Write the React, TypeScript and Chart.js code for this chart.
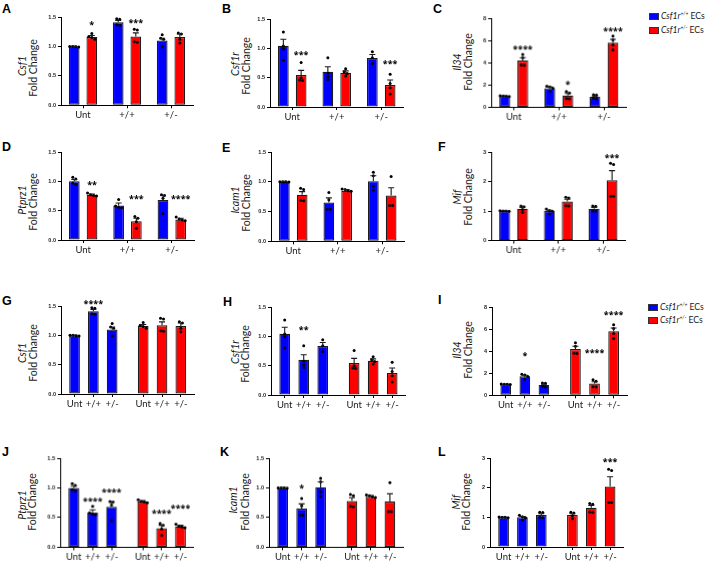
import React, { useEffect, useRef } from 'react';
import { Chart, registerables } from 'chart.js';
Chart.register(...registerables);

// ---------- data ----------
const GROUPS = ['Unt', '+/+', '+/-'];
const LETTERS = ['A', 'B', 'C', 'D', 'E', 'F', 'G', 'H', 'I', 'J', 'K', 'L'];
const GENES = ['Csf1', 'Csf1r', 'Il34', 'Ptprz1', 'Icam1', 'Mif'];
const Y_MAX = [1.5, 1.5, 8, 1.5, 1.5, 3];
const Y_STEP = [0.5, 0.5, 2, 0.5, 0.5, 1];
const Y_DEC = [1, 1, 0, 1, 1, 0];

const csf1BlueMean = [1.0, 1.41, 1.1];
const csf1RedMean = [1.16, 1.17, 1.16];
const csf1BlueSem = [0.006, 0.03, 0.04];
const csf1RedSem = [0.025, 0.06, 0.05];
const csf1BlueDots = [[1.0, 1.0, 0.995, 0.99], [1.47, 1.46, 1.37, 1.36], [1.2, 1.14, 1.12, 0.99]];
const csf1RedDots = [[1.22, 1.17, 1.15, 1.12], [1.29, 1.28, 1.08, 1.07], [1.23, 1.21, 1.12, 1.06]];

const csf1rBlueMean = [1.045, 0.6, 0.835];
const csf1rRedMean = [0.545, 0.585, 0.375];
const csf1rBlueSem = [0.11, 0.085, 0.06];
const csf1rRedSem = [0.08, 0.03, 0.085];
const csf1rBlueDots = [[1.28, 1.04, 0.99, 0.8], [0.84, 0.58, 0.52, 0.47], [0.94, 0.84, 0.74]];
const csf1rRedDots = [[0.76, 0.5, 0.46, 0.45], [0.65, 0.6, 0.57, 0.53], [0.56, 0.4, 0.33, 0.22]];

const il34BlueMean = [1.0, 1.72, 0.94];
const il34RedMean = [4.2, 1.06, 5.8];
const il34BlueSem = [0.03, 0.09, 0.07];
const il34RedSem = [0.25, 0.17, 0.3];
const il34BlueDots = [[1.03, 1.0, 0.99, 0.97], [1.9, 1.83, 1.7, 1.45], [1.12, 1.1, 0.82, 0.76]];
const il34RedDots = [[4.75, 4.45, 3.8, 3.78], [1.42, 1.27, 0.78, 0.76], [6.4, 6.05, 5.6, 5.15]];

const ptprz1BlueMean = [1.0, 0.59, 0.68];
const ptprz1RedMean = [0.77, 0.32, 0.35];
const ptprz1BlueSem = [0.03, 0.04, 0.08];
const ptprz1RedSem = [0.015, 0.05, 0.02];
const ptprz1BlueDots = [[1.07, 1.04, 0.97, 0.95], [0.69, 0.58, 0.56, 0.55], [0.77, 0.76, 0.71, 0.45]];
const ptprz1RedDots = [[0.8, 0.77, 0.76, 0.75], [0.4, 0.37, 0.31, 0.2], [0.39, 0.36, 0.34, 0.33]];

const icam1BlueMean = [1.0, 0.65, 1.01];
const icam1RedMean = [0.78, 0.85, 0.77];
const icam1BlueSem = [0.006, 0.08, 0.09];
const icam1RedSem = [0.055, 0.02, 0.13];
const icam1BlueDots = [[1.0, 1.0, 1.0, 0.995], [0.82, 0.7, 0.54, 0.54], [1.16, 1.1, 0.93, 0.86]];
const icam1RedDots = [[0.89, 0.87, 0.69, 0.68], [0.88, 0.87, 0.85, 0.84], [1.09, 0.6, 0.6]];

const mifBlueMean = [1.0, 1.0, 1.08];
const mifRedMean = [1.08, 1.32, 2.04];
const mifBlueSem = [0.01, 0.03, 0.04];
const mifRedSem = [0.04, 0.08, 0.33];
const mifBlueDots = [[1.01, 1.0, 1.0, 0.99], [1.07, 1.02, 0.99, 0.91], [1.17, 1.16, 1.0, 0.99]];
const mifRedDots = [[1.17, 1.15, 1.05, 0.95], [1.47, 1.44, 1.18, 1.17], [2.62, 2.58, 1.5, 1.5]];

// significance marks: [series (0 blue, 1 red), group, text, height]
const starsA = [[1, 0, '*', 1.4], [1, 1, '***', 1.43]];
const starsB = [[1, 0, '***', 0.93], [1, 2, '***', 0.77]];
const starsC = [[1, 0, '****', 5.35], [1, 1, '*', 2.2], [1, 2, '****', 7.0]];
const starsD = [[1, 0, '**', 0.98], [1, 1, '***', 0.74], [1, 2, '****', 0.74]];
const starsE: any[] = [];
const starsF = [[1, 2, '***', 2.86]];
const starsG = [[0, 1, '****', 1.58]];
const starsH = [[0, 1, '**', 1.15]];
const starsI = [[0, 1, '*', 3.78], [1, 1, '****', 4.0], [1, 2, '****', 7.5]];
const starsJ = [[0, 1, '****', 0.8], [0, 2, '****', 0.96], [1, 1, '****', 0.61], [1, 2, '****', 0.69]];
const starsK = [[0, 1, '*', 1.02]];
const starsL = [[1, 2, '***', 2.95]];

const GENE_DATA = [
  [csf1BlueMean, csf1RedMean, csf1BlueSem, csf1RedSem, csf1BlueDots, csf1RedDots],
  [csf1rBlueMean, csf1rRedMean, csf1rBlueSem, csf1rRedSem, csf1rBlueDots, csf1rRedDots],
  [il34BlueMean, il34RedMean, il34BlueSem, il34RedSem, il34BlueDots, il34RedDots],
  [ptprz1BlueMean, ptprz1RedMean, ptprz1BlueSem, ptprz1RedSem, ptprz1BlueDots, ptprz1RedDots],
  [icam1BlueMean, icam1RedMean, icam1BlueSem, icam1RedSem, icam1BlueDots, icam1RedDots],
  [mifBlueMean, mifRedMean, mifBlueSem, mifRedSem, mifBlueDots, mifRedDots],
] as any[];
const STARS = [starsA, starsB, starsC, starsD, starsE, starsF, starsG, starsH, starsI, starsJ, starsK, starsL] as any[];

// ---------- layout / style ----------
const BLUE = '#0000ff';
const RED = '#ff0000';
const EDGE = '#1c1c1c';
const INK = '#1a1a1a';
const FONT = 'Lato, "Open Sans", sans-serif';

// plot area boxes [left, top, right, bottom]
const PLOT_BOXES = [
  [61, 17, 193, 105.3], [269.5, 19, 403, 107], [491, 18.3, 625.5, 106.7],
  [61, 152.3, 194, 240.3], [270.5, 151.7, 404, 241], [491, 151.7, 624.5, 240.3],
  [61, 305.7, 194, 393.7], [270.5, 307, 405, 395], [491.5, 306.7, 626.5, 395],
  [60, 458.3, 192.7, 546.7], [268.5, 458.3, 402.7, 546.7], [490, 457.7, 623.3, 546.7],
];
const PAD_L = 30, PAD_T = 20, PAD_R = 8, PAD_B = 22;
const GROUPED_X = { blue: [-0.2, 0.8, 1.8], red: [0.2, 1.2, 2.2], min: -0.5, max: 2.5, step: 0.4 };
const SPLIT_X = { blue: [0, 1, 2], red: [3.65, 4.65, 5.65], min: -0.72, max: 6.35, step: 1 };
const BAR_PX = 10.7;
const DOT_GAP_PX = 3;

const LETTER_POS = [
  [2, 4], [222, 4], [433, 4], [2, 142], [222, 143], [438, 142],
  [2, 296], [223, 297], [438, 295], [2, 447], [220, 447], [438, 447],
];
// y-axis title centres: [geneX, geneY, foldX, foldY]
const YTITLE_POS = [
  [21.7, 66, 33, 68], [235, 64, 245.5, 66], [457, 62, 467.5, 62],
  [22, 200, 33, 202], [235, 200, 246, 203], [457, 197, 467.5, 197],
  [22, 353, 33, 353], [234.5, 352, 245, 354], [457, 350, 467.5, 350],
  [21.5, 505, 31.5, 502], [233, 500, 245, 502], [456, 502, 466, 502],
];

function spread(vals: number[], tol: number): [number, number][] {
  const s = [...vals].sort((a, b) => b - a);
  const out: [number, number][] = [];
  let i = 0;
  while (i < s.length) {
    let j = i;
    while (j + 1 < s.length && s[j] - s[j + 1] < tol) j++;
    const n = j - i + 1;
    for (let k = 0; k < n; k++) out.push([s[i + k], k - (n - 1) / 2]);
    i = j + 1;
  }
  return out;
}

function buildConfig(idx: number): any {
  const g = idx % 6;
  const split = idx >= 6;
  const [blueMean, redMean, blueSem, redSem, blueDots, redDots] = GENE_DATA[g];
  const X = split ? SPLIT_X : GROUPED_X;
  const [L, , R] = PLOT_BOXES[idx];
  const pxPerUnit = (R - L) / (X.max - X.min);
  const unitPerPx = 1 / pxPerUnit;
  const yMax = Y_MAX[g];
  const dots: { x: number; y: number }[] = [];
  const addDots = (sets: number[][], xs: number[]) =>
    sets.forEach((arr, i) =>
      spread(arr, yMax * 0.025).forEach(([v, k]) => dots.push({ x: xs[i] + k * DOT_GAP_PX * unitPerPx, y: v }))
    );
  addDots(blueDots, X.blue);
  addDots(redDots, X.red);

  const tickPos = split ? [...X.blue, ...X.red] : [0, 1, 2];
  const tickLab = split ? [...GROUPS, ...GROUPS] : GROUPS;
  const barPct = BAR_PX / (X.step * pxPerUnit);

  const barDs = (means: number[], xs: number[], color: string) => ({
    type: 'bar',
    data: means.map((v, i) => ({ x: xs[i], y: v })),
    backgroundColor: color,
    borderColor: EDGE,
    borderWidth: 1.2,
    borderSkipped: false,
    grouped: false,
    categoryPercentage: 1,
    barPercentage: barPct,
    order: 3,
  });

  const errs = [
    { xs: X.blue, means: blueMean, sems: blueSem },
    { xs: X.red, means: redMean, sems: redSem },
  ];
  const stars = STARS[idx];

  const overlay = {
    id: 'overlay' + idx,
    afterDatasetsDraw(chart: any) {
      const ctx = chart.ctx;
      const xs = chart.scales.x, ys = chart.scales.y;
      ctx.save();
      ctx.strokeStyle = INK;
      ctx.lineWidth = 1.1;
      errs.forEach((e) => {
        e.means.forEach((m: number, i: number) => {
          const x = xs.getPixelForValue(e.xs[i]);
          const y0 = ys.getPixelForValue(m);
          const y1 = ys.getPixelForValue(m + e.sems[i]);
          ctx.beginPath();
          ctx.moveTo(x, y0);
          ctx.lineTo(x, y1);
          ctx.moveTo(x - 3, y1);
          ctx.lineTo(x + 3, y1);
          ctx.stroke();
        });
      });
      ctx.restore();
    },
    afterDraw(chart: any) {
      const ctx = chart.ctx;
      const xs = chart.scales.x, ys = chart.scales.y;
      ctx.save();
      ctx.fillStyle = '#000';
      ctx.font = 'bold 9px "Open Sans"';
      ctx.textAlign = 'center';
      ctx.textBaseline = 'alphabetic';
      stars.forEach(([s, gi, txt, h]: any) => {
        const xv = s === 0 ? X.blue[gi] : X.red[gi];
        ctx.fillText(txt, xs.getPixelForValue(xv), ys.getPixelForValue(h) + 5.2);
      });
      ctx.restore();
    },
  };

  return {
    type: 'bar',
    data: {
      datasets: [
        {
          type: 'scatter',
          data: dots,
          pointRadius: 1.5,
          pointBackgroundColor: '#000',
          pointBorderWidth: 0,
          order: 1,
          clip: false,
        },
        barDs(blueMean, X.blue, BLUE),
        barDs(redMean, X.red, RED),
      ],
    },
    options: {
      animation: false,
      responsive: true,
      maintainAspectRatio: false,
      events: [],
      layout: { padding: { top: PAD_T, right: PAD_R, left: 0, bottom: 0 } },
      plugins: { legend: { display: false }, tooltip: { enabled: false }, title: { display: false } },
      scales: {
        x: {
          type: 'linear',
          min: X.min,
          max: X.max,
          offset: false,
          afterBuildTicks: (axis: any) => {
            axis.ticks = tickPos.map((v) => ({ value: v }));
          },
          afterFit: (s: any) => {
            s.height = PAD_B;
          },
          ticks: {
            autoSkip: false,
            maxRotation: 0,
            minRotation: 0,
            padding: 1,
            color: INK,
            font: { family: FONT, size: 9.5 },
            callback: (_v: any, i: number) => tickLab[i],
          },
          grid: { display: true, offset: false, drawOnChartArea: false, drawTicks: true, tickLength: 3, color: '#000', lineWidth: 1 },
          border: { display: true, color: '#000', width: 1 },
        },
        y: {
          type: 'linear',
          min: 0,
          max: yMax,
          afterFit: (s: any) => {
            s.width = PAD_L;
          },
          ticks: {
            stepSize: Y_STEP[g],
            padding: 2,
            color: INK,
            font: { family: '"Liberation Sans", Arial, sans-serif', size: 5.5, weight: 'bold' },
            callback: (v: any) => Number(v).toFixed(Y_DEC[g]),
          },
          grid: { display: true, drawOnChartArea: false, drawTicks: true, tickLength: 3, color: '#000', lineWidth: 1 },
          border: { display: true, color: '#000', width: 1 },
        },
      },
    },
    plugins: [overlay],
  };
}

function Panel({ idx }: { idx: number }) {
  const ref = useRef<HTMLCanvasElement>(null);
  useEffect(() => {
    const chart = new Chart(ref.current as HTMLCanvasElement, buildConfig(idx));
    return () => chart.destroy();
  }, [idx]);
  const [L, T, R, B] = PLOT_BOXES[idx];
  return (
    <div
      style={{
        position: 'absolute',
        left: L - PAD_L,
        top: T - PAD_T,
        width: R - L + PAD_L + PAD_R,
        height: B - T + PAD_T + PAD_B,
      }}
    >
      <canvas ref={ref} />
    </div>
  );
}

function VText({ x, y, italic, text }: { x: number; y: number; italic?: boolean; text: string }) {
  return (
    <div
      style={{
        position: 'absolute',
        left: x,
        top: y,
        transform: 'translate(-50%,-50%) rotate(-90deg)',
        whiteSpace: 'nowrap',
        fontFamily: FONT,
        fontSize: 10.5,
        lineHeight: 1,
        fontStyle: italic ? 'italic' : 'normal',
        color: INK,
      }}
    >
      {text}
    </div>
  );
}

function Legend({ x, y }: { x: number; y: number }) {
  const row = (dy: number, color: string, geno: string) => (
    <div style={{ position: 'absolute', left: 0, top: dy, height: 10, display: 'flex', alignItems: 'center' }}>
      <div style={{ width: 10, height: 7, background: color, border: '0.5px solid #333', boxSizing: 'border-box' }} />
      <div style={{ marginLeft: 2, fontFamily: FONT, fontSize: 8.6, color: INK, whiteSpace: 'nowrap', lineHeight: 1 }}>
        <i>Csf1r</i>
        <span style={{ fontSize: 5, fontStyle: 'italic', verticalAlign: 'top', position: 'relative', top: -1 }}>{geno}</span> ECs
      </div>
    </div>
  );
  return (
    <div style={{ position: 'absolute', left: x, top: y, width: 62, height: 26 }}>
      {row(0, BLUE, '+/+')}
      {row(13.5, RED, '+/-')}
    </div>
  );
}

export default function App() {
  return (
    <div
      style={{
        position: 'absolute',
        left: 0,
        top: 0,
        width: 708,
        height: 563,
        background: '#fff',
        overflow: 'hidden',
      }}
    >
      {LETTERS.map((l, i) => (
        <div
          key={'l' + i}
          style={{
            position: 'absolute',
            left: LETTER_POS[i][0],
            top: LETTER_POS[i][1] - 1.5,
            fontFamily: '"Liberation Sans", Arial, sans-serif',
            fontWeight: 'bold',
            fontSize: 12.5,
            lineHeight: 1,
            color: '#000',
          }}
        >
          {l}
        </div>
      ))}
      {YTITLE_POS.map((p, i) => (
        <React.Fragment key={'t' + i}>
          <VText x={p[0]} y={p[1]} italic text={GENES[i % 6]} />
          <VText x={p[2]} y={p[3]} text="Fold Change" />
        </React.Fragment>
      ))}
      {PLOT_BOXES.map((_, i) => (
        <Panel key={'p' + i} idx={i} />
      ))}
      <Legend x={649} y={11.5} />
      <Legend x={648} y={302} />
    </div>
  );
}
